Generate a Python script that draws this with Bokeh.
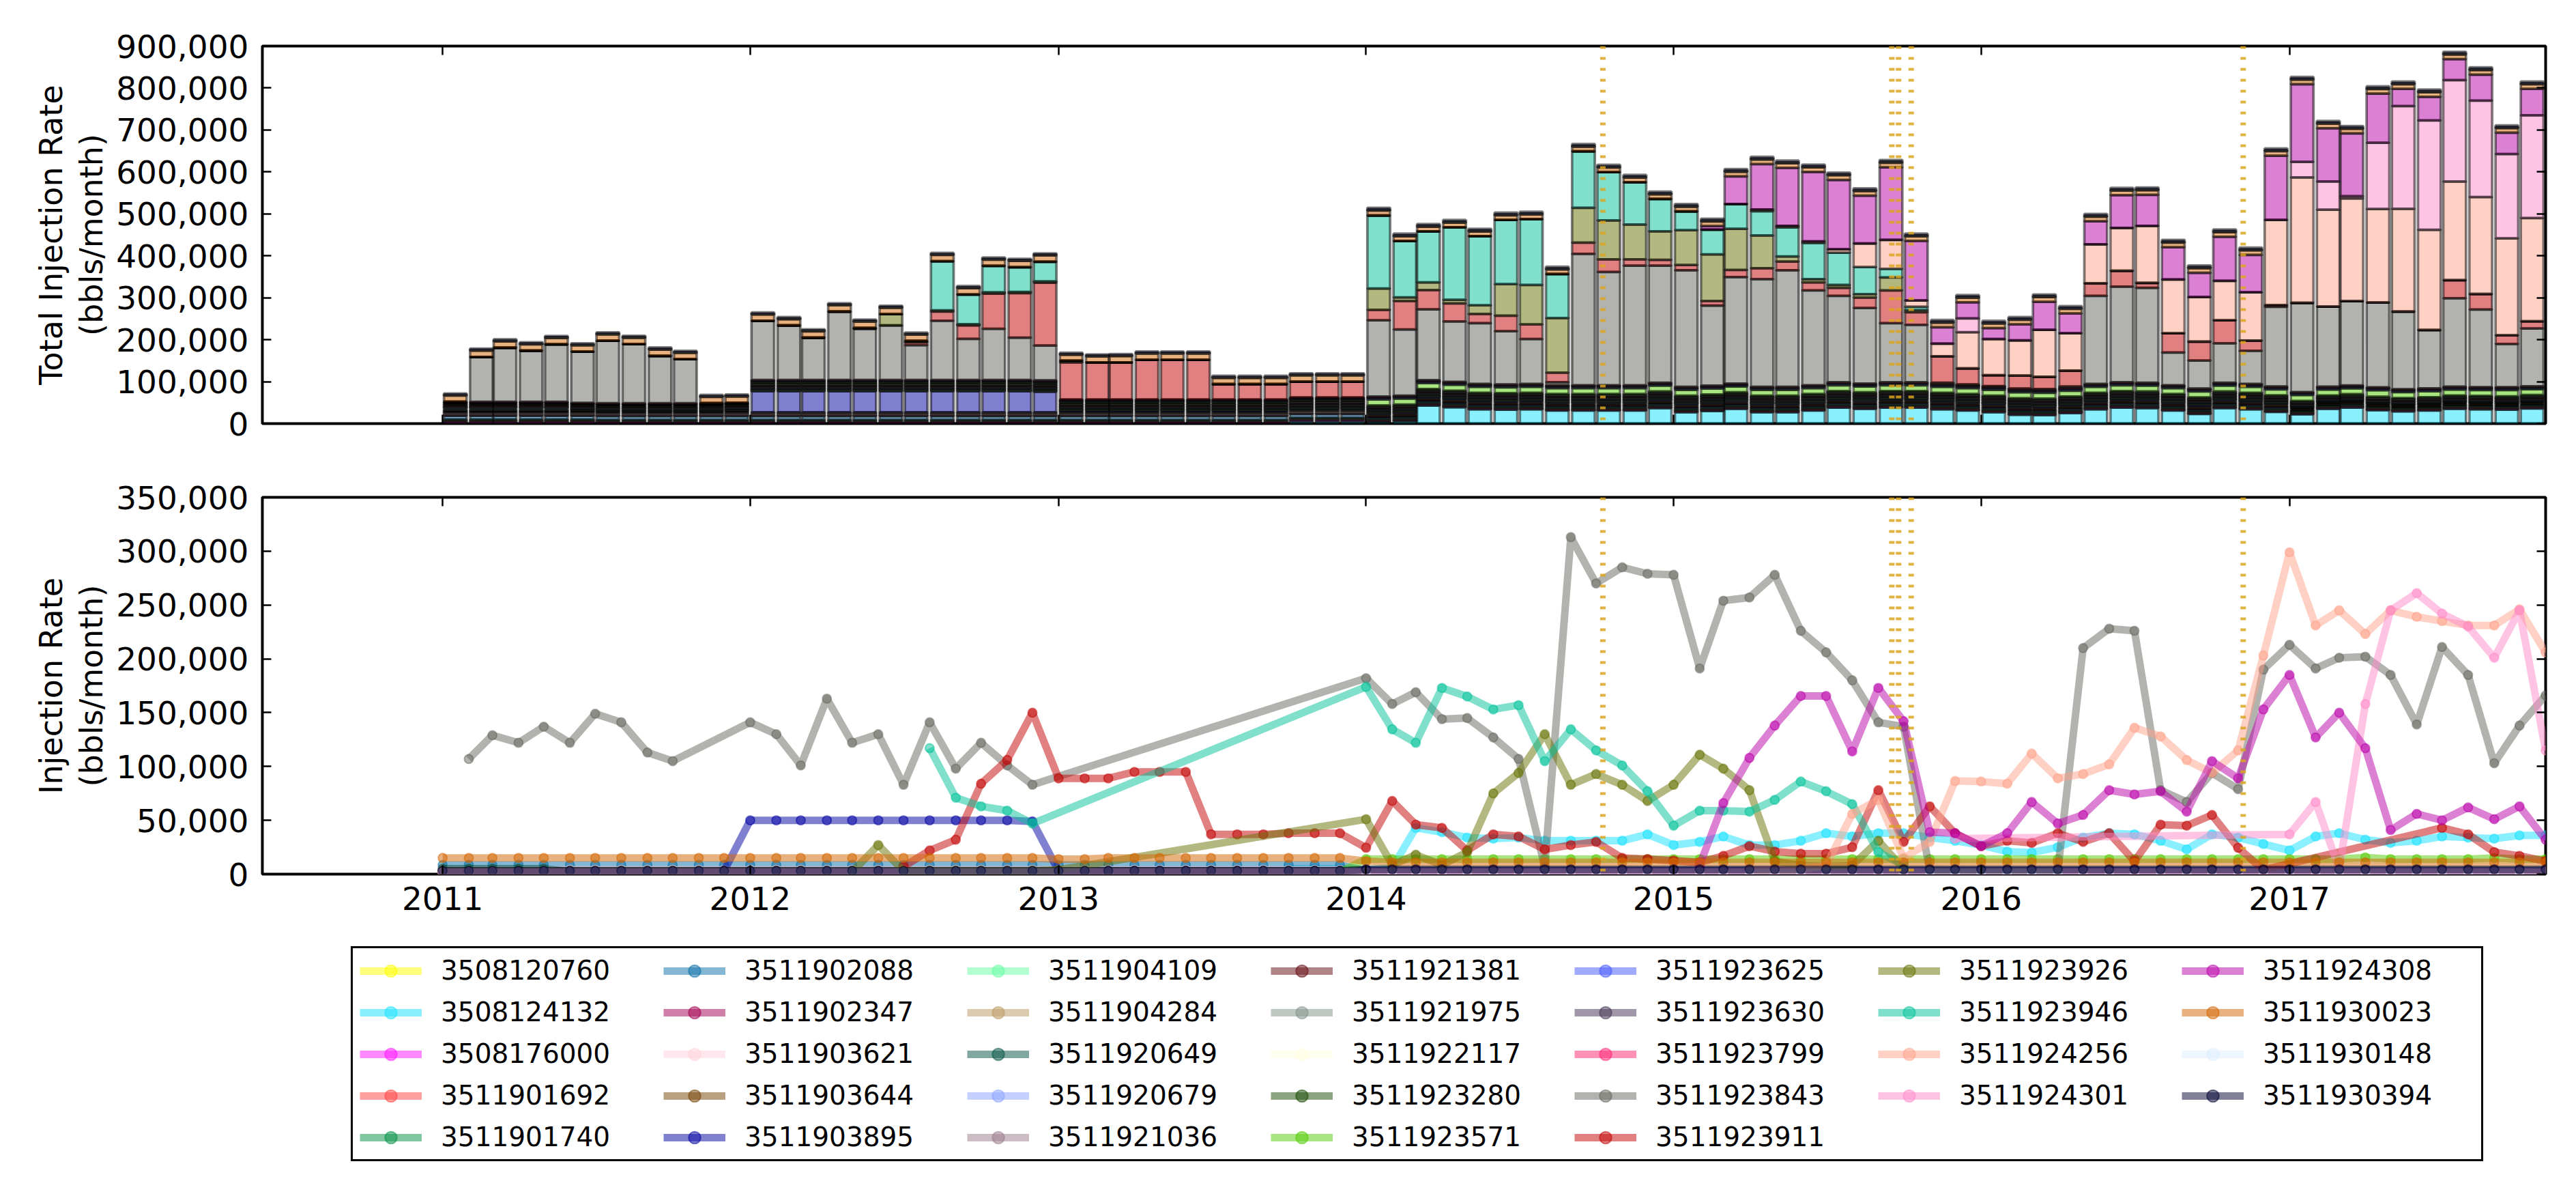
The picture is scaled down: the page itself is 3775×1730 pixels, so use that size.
import pandas as pd
from bokeh.plotting import figure
from bokeh.models import (ColumnDataSource, Span, Legend, LegendItem, LinearAxis,
                          DatetimeAxis, NumeralTickFormatter, FixedTicker,
                          DatetimeTickFormatter, Range1d, CustomJSTickFormatter)
from bokeh.layouts import column
from bokeh.embed import file_html
from bokeh.resources import INLINE

_ = None

# ---------------------------------------------------------------- data
FIRST_MONTH = "2011-01-01"      # monthly reports, Jan 2011 .. Nov 2017
N_MONTHS = 83
X_START = "2010-06-01"
X_END = "2017-11-01"
YEAR_TICKS = [2011, 2012, 2013, 2014, 2015, 2016, 2017]
QUAKE_DATES = ["2014-10-09", "2015-09-17", "2015-09-25", "2015-10-10", "2016-11-07"]
TOP_Y_TICKS = [0, 100000, 200000, 300000, 400000, 500000, 600000, 700000, 800000, 900000]
BOTTOM_Y_TICKS = [0, 50000, 100000, 150000, 200000, 250000, 300000, 350000]

WELL_IDS = ["3508120760", "3508124132", "3508176000", "3511901692", "3511901740",
            "3511902088", "3511902347", "3511903621", "3511903644", "3511903895",
            "3511904109", "3511904284", "3511920649", "3511920679", "3511921036",
            "3511921381", "3511921975", "3511922117", "3511923280", "3511923571",
            "3511923625", "3511923630", "3511923799", "3511923843", "3511923911",
            "3511923926", "3511923946", "3511924256", "3511924301", "3511924308",
            "3511930023", "3511930148", "3511930394"]
WELL_COLORS = ["#ffff00", "#15e1ff", "#ff11ff", "#ff4141", "#028f42",
               "#0a70a8", "#a10051", "#ffd1dc", "#714101", "#0101a1",
               "#65ffa1", "#b9975f", "#015141", "#89a1ff", "#997989",
               "#610a10", "#819189", "#ffffe1", "#154901", "#51c901",
               "#4155ff", "#413151", "#ff2171", "#65655d", "#c10101",
               "#657101", "#01c199", "#ffa189", "#ff89c9", "#b901a9",
               "#d16501", "#ddedff", "#010131"]

# thousand bbls / month, one row per year (2011 ... 2017), None = no report
W3508120760 = [
    1, 1, 1, 1, 1, 1, _, _, _, _, _, _,
    _, _, _, _, _, _, _, _, _, _, _, _,
    _, _, _, _, _, _, _, _, _, _, _, _,
    _, _, _, _, _, _, _, _, _, _, _, _,
    _, _, _, _, _, _, _, _, _, _, _, _,
    _, _, _, _, _, _, _, _, _, _, _, _,
    _, _, _, _, _, _, _, _, _, _, _]
W3508124132 = [
    _, _, _, _, _, _, _, _, _, _, _, _,
    _, _, _, _, _, _, _, _, _, _, _, _,
    _, _, _, _, _, _, _, _, _, 5, 5, 5,
    4, 6, 43, 39, 34, 33, 34, 31, 31, 31, 31, 37,
    27, 30, 35, 27, 27, 31, 38, 35, 38, 38, 34, 31,
    27, 21, 20, 25, 34, 38, 37, 31, 23, 37, 34, 28,
    22, 35, 38, 32, 29, 31, 35, 34, 33, 36, 36]
W3508176000 = [
    3.5, 3.5, 3.5, 3.5, 3.5, 3.5, 3.5, 3.5, 3.5, 3.5, 3.5, 3.5,
    3.5, 3.5, 3.5, 3.5, 3.5, 3.5, 3.5, 3.5, 3.5, 3.5, 3.5, 3.5,
    3.5, 3.5, 3.5, 3.5, 3.5, 3.5, 3.5, 3.5, 3.5, 3.5, 3.5, 3.5,
    2, 2, 2, 2, 2, 2, 2, 2, 2, 2, 2, 2,
    2, 2, 2, 2, 2, 2, 2, 2, 2, 2, 2, 2,
    2, 2, 2, 2, 2, 2, 2, 2, 2, 2, 2, 2,
    2, 2, 2, 2, 2, 2, 2, 2, 2, 2, 2]
W3511901692 = [
    2.5, 2.5, 2.5, 2.5, 2.5, 2.5, 2.5, 2.5, 2.5, 2.5, 2.5, 2.5,
    2.5, 2.5, 2.5, 2.5, 2.5, 2.5, 2.5, 2.5, 2.5, 2.5, 2.5, 2.5,
    2.5, 2.5, 2.5, 2.5, 2.5, 2.5, 2.5, 2.5, 2.5, 2.5, 2.5, 2.5,
    2.5, 2.5, 2.5, 2.5, 2.5, 2.5, 2.5, 2.5, 2.5, 2.5, 2.5, 2.5,
    2.5, 2.5, 2.5, 2.5, 2.5, 2.5, 2.5, 2.5, 2.5, 2.5, 2.5, 2.5,
    2.5, 2.5, 2.5, 2.5, 2.5, 2.5, 2.5, 2.5, 2.5, 2.5, 2.5, 2.5,
    2.5, 2.5, 2.5, 2.5, 2.5, 2.5, 2.5, 2.5, 2.5, 2.5, 2.5]
W3511901740 = [
    3, 3, 3, 3, 3, 3, 3, 3, 3, 3, 3, 3,
    3, 3, 3, 3, 3, 3, 3, 3, 3, 3, 3, 3,
    3, 3, 3, 3, 3, 3, 3, 3, 3, 3, 3, 3,
    3, 3, 3, 3, 3, 3, 3, 3, 3, 3, 3, 3,
    3, 3, 3, 3, 3, 3, 3, 3, 3, 3, 3, 3,
    3, 3, 3, 3, 3, 3, 3, 3, 3, 3, 3, 3,
    3, 3, 3, 3, 3, 3, 3, 3, 3, 3, 3]
W3511902088 = [
    8.5, 8.5, 8.5, 8.5, 8.5, 8.5, 8.5, 8.5, 8.5, 8.5, 8.5, 8.5,
    8.5, 8.5, 8.5, 8.5, 8.5, 8.5, 8.5, 8.5, 8.5, 8.5, 8.5, 8.5,
    8.5, 8.5, 8.5, 8.5, 8.5, 8.5, 8.5, 8.5, 8.5, 8.5, 8.5, 8.5,
    3, 3, 3, 3, 3, 3, 3, 3, 3, 3, 3, 3,
    3, 3, 3, 3, 3, 3, 3, 3, 3, 3, 3, 3,
    3, 3, 3, 3, 3, 3, 3, 3, 3, 3, 3, 3,
    3, 3, 3, 3, 3, 3, 3, 3, 3, 3, 3]
W3511902347 = [
    2.5, 2.5, 2.5, 2.5, 2.5, 2.5, 2.5, 2.5, 2.5, 2.5, 2.5, 2.5,
    2.5, 2.5, 2.5, 2.5, 2.5, 2.5, 2.5, 2.5, 2.5, 2.5, 2.5, 2.5,
    2.5, 2.5, 2.5, 2.5, 2.5, 2.5, 2.5, 2.5, 2.5, 2.5, 2.5, 2.5,
    2.5, 2.5, 2.5, 2.5, 2.5, 2.5, 2.5, 2.5, 2.5, 2.5, 2.5, 2.5,
    2.5, 2.5, 2.5, 2.5, 2.5, 2.5, 2.5, 2.5, 2.5, 2.5, 2.5, 2.5,
    2.5, 2.5, 2.5, 2.5, 2.5, 2.5, 2.5, 2.5, 2.5, 2.5, 2.5, 2.5,
    _, _, _, _, _, _, _, _, _, _, _]
W3511903621 = [
    4, 4, 4, 4, 4, 4, 4, 4, 4, 4, 4, 4,
    4, 4, 4, 4, 4, 4, 4, 4, 4, 4, 4, 4,
    4, 4, 4, 4, 4, 4, 4, 4, 4, 4, 4, 4,
    _, _, _, _, _, _, _, _, _, _, _, _,
    _, _, _, _, _, _, _, _, _, _, _, _,
    _, _, _, _, _, _, _, _, _, _, _, _,
    _, _, _, _, _, _, _, _, _, _, _]
W3511903644 = [
    3, 3, 3, 3, 3, 3, 3, 3, 3, 3, 3, 3,
    3, 3, 3, 3, 3, 3, 3, 3, 3, 3, 3, 3,
    3, 3, 3, 3, 3, 3, 3, 3, 3, 3, 3, 3,
    4, 4, 4, 4, 4, 4, 4, 4, 4, 4, 4, 4,
    4, 4, 4, 4, 4, 4, 4, 4, 4, 4, 4, 4,
    4, 4, 4, 4, 4, 4, 4, 4, 4, 4, 4, 4,
    4, 4, 4, 4, 4, 4, 4, 4, 4, 4, 4]
W3511903895 = [
    2, 2, 2, 2, 2, 2, 2, 2, 2, 2, 2, 3,
    50, 50, 50, 50, 50, 50, 50, 50, 50, 50, 50, 49,
    3, 3, 3, 3, 3, 3, 3, 3, 3, 3, 3, 3,
    3, 3, 3, 3, 3, 3, 3, 3, 3, 3, 3, 3,
    3, 3, 3, 3, 3, 3, 3, 3, 3, 3, 3, 3,
    3, 3, 3, 3, 3, 3, 3, 3, 3, 3, 3, 3,
    _, _, _, _, _, _, _, _, _, _, _]
W3511904109 = [
    _, _, _, _, _, _, _, _, _, _, _, _,
    2, 2, 2, 2, 2, 2, 2, 2, 2, 2, 2, 2,
    2, 2, 2, 2, 2, 2, 2, 2, 2, 2, 2, 2,
    2, 2, 2, 2, 2, 2, 2, 2, 2, 2, 2, 2,
    2, 2, 2, 2, 2, 2, 2, 2, 2, 2, 2, 2,
    2, 2, 2, 2, 2, 2, 2, 2, 2, 2, 2, 2,
    2, 2, 2, 2, 2, 2, 2, 2, 2, 2, 2]
W3511904284 = [
    2, 2, 2, 2, 2, 2, 2, 2, 2, 2, 2, 2,
    2, 2, 2, 2, 2, 2, 2, 2, 2, 2, 2, 2,
    2, 2, 2, 2, 2, 2, 2, 2, 2, 2, 2, 2,
    2, 2, 2, 2, 2, 2, 2, 2, 2, 2, 2, 2,
    2, 2, 2, 2, 2, 2, 2, 2, 2, 2, 2, 2,
    2, 2, 2, 2, 2, 2, 2, 2, 2, 2, 2, 2,
    _, _, _, _, _, _, _, _, _, _, _]
W3511920649 = [
    5, 5, 5, 5, 5, 2.5, 2.5, 2.5, 2.5, 2.5, 2.5, 2.5,
    2.5, 2.5, 2.5, 2.5, 2.5, 2.5, 2.5, 2.5, 2.5, 2.5, 2.5, 2.5,
    2.5, 2.5, 2.5, 2.5, 2.5, 2.5, 2.5, 2.5, 2.5, 2.5, 2.5, 2.5,
    2.5, 2.5, 2.5, 2.5, 2.5, 2.5, 2.5, 2.5, 2.5, 2.5, 2.5, 2.5,
    2.5, 2.5, 2.5, 2.5, 2.5, 2.5, 2.5, 2.5, 2.5, 2.5, 2.5, 2.5,
    2.5, 2.5, 2.5, 2.5, 2.5, 2.5, 2.5, 2.5, 2.5, 2.5, 2.5, 2.5,
    2.5, 2.5, 2.5, 2.5, 2.5, 2.5, 2.5, 2.5, 2.5, 2.5, 2.5]
W3511920679 = [
    2, 2, 2, 2, 2, 2, 2, 2, 2, 2, 2, 2,
    2, 2, 2, 2, 2, 2, 2, 2, 2, 2, 2, 2,
    2, 2, 2, 2, 2, 2, 2, 2, 2, 2, 2, 2,
    2, 2, 2, 2, 2, 2, 2, 2, 2, 2, 2, 2,
    2, 2, 2, 2, 2, 2, 2, 2, 2, 2, 2, 2,
    2, 2, 2, 2, 2, 2, 2, 2, 2, 2, 2, 2,
    2, 2, 2, 2, 2, 2, 2, 2, 2, 2, 2]
W3511921036 = [
    2, 2, 2, 2, 2, 2, 2, 2, 2, 2, 2, 2,
    2, 2, 2, 2, 2, 2, 2, 2, 2, 2, 2, 2,
    2, 2, 2, 2, 2, 2, 2, 2, 2, 2, 2, 2,
    2, 2, 2, 2, 2, 2, 2, 2, 2, 2, 2, 2,
    2, 2, 2, 2, 2, 2, 2, 2, 2, 2, 2, 2,
    2, 2, 2, 2, 2, 2, 2, 2, 2, 2, 2, 2,
    2, 2, 2, 2, 2, 2, 2, 2, 2, 2, 2]
W3511921381 = [
    2.5, 2.5, 2.5, 2.5, 2.5, 2.5, 2.5, 2.5, 2.5, 2.5, 2.5, 2.5,
    2.5, 2.5, 2.5, 2.5, 2.5, 2.5, 2.5, 2.5, 2.5, 2.5, 2.5, 2.5,
    2.5, 2.5, 2.5, 2.5, 2.5, 2.5, 2.5, 2.5, 2.5, 2.5, 2.5, 2.5,
    2.5, 2.5, 2.5, 2.5, 2.5, 2.5, 2.5, 2.5, 2.5, 2.5, 2.5, 2.5,
    2.5, 2.5, 2.5, 2.5, 2.5, 2.5, 2.5, 2.5, 2.5, 2.5, 2.5, 2.5,
    2.5, 2.5, 2.5, 2.5, 2.5, 2.5, 2.5, 2.5, 2.5, 2.5, 2.5, 2.5,
    2.5, 2.5, 2.5, 2.5, 2.5, 2.5, 2.5, 2.5, 2.5, 2.5, 2.5]
W3511921975 = [
    2, 2, 2, 2, 2, 2, 2, 2, 2, 2, 2, 2,
    2, 2, 2, 2, 2, 2, 2, 2, 2, 2, 2, 2,
    2, 2, 2, 2, 2, 2, 2, 2, 2, 2, 2, 2,
    2, 2, 2, 2, 2, 2, 2, 2, 2, 2, 2, 2,
    2, 2, 2, 2, 2, 2, 2, 2, 2, 2, 2, 2,
    2, 2, 2, 2, 2, 2, 2, 2, 2, 2, 2, 2,
    2, 2, 2, 2, 2, 2, 2, 2, 2, 2, 2]
W3511922117 = [
    _, _, _, _, _, _, _, _, _, _, _, _,
    1.5, 1.5, 1.5, 1.5, 1.5, 1.5, 1.5, 1.5, 1.5, 1.5, 1.5, 1.5,
    1.5, 1.5, 1.5, 1.5, 1.5, 1.5, 1.5, 1.5, 1.5, 1.5, 1.5, 1.5,
    1.5, 1.5, 1.5, 1.5, 1.5, 1.5, 1.5, 1.5, 1.5, 1.5, 1.5, 1.5,
    1.5, 1.5, 1.5, 1.5, 1.5, 1.5, 1.5, 1.5, 1.5, 1.5, 1.5, 1.5,
    1.5, 1.5, 1.5, 1.5, 1.5, 1.5, 1.5, 1.5, 1.5, 1.5, 1.5, 1.5,
    1.5, 1.5, 1.5, 1.5, 1.5, 1.5, 1.5, 1.5, 1.5, 1.5, 1.5]
W3511923280 = [
    3, 3, 3, 3, 3, 3, 3, 3, 3, 3, 3, 3,
    3, 3, 3, 3, 3, 3, 3, 3, 3, 3, 3, 3,
    3, 3, 3, 3, 3, 3, 3, 3, 3, 3, 3, 3,
    3, 3, 3, 3, 3, 3, 3, 3, 3, 3, 3, 3,
    3, 3, 3, 3, 3, 3, 3, 3, 3, 3, 3, 3,
    3, 3, 3, 3, 3, 3, 3, 3, 3, 3, 3, 3,
    3, 3, 3, 3, 3, 3, 3, 3, 3, 3, 3]
W3511923571 = [
    _, _, _, _, _, _, _, _, _, _, _, _,
    2, 2, 2, 2, 2, 2, 2, 2, 2, 2, 2, 2,
    2, 2, 2, 2, 2, 2, 2, 2, 2, 2, 2, 2,
    14, 14, 14, 14, 14, 14, 14, 14, 14, 14, 14, 14,
    14, 14, 14, 14, 14, 14, 14, 14, 14, 14, 14, 14,
    14, 14, 14, 14, 14, 14, 14, 14, 14, 14, 14, 14,
    14, 14, 14, 15.5, 14, 14, 14, 14, 15, 14, 14]
W3511923625 = [
    _, _, _, _, _, _, _, _, _, _, _, _,
    2, 2, 2, 2, 2, 2, 2, 2, 2, 2, 2, 2,
    2, 2, 2, 2, 2, 2, 2, 2, 2, 2, 2, 2,
    3, 3, 3, 3, 3, 3, 3, 3, 3, 3, 3, 3,
    3, 3, 3, 3, 3, 3, 3, 3, 3, 3, 3, 3,
    3, 3, 3, 3, 3, 3, 3, 3, 3, 3, 3, 3,
    3, 3, 3, 3, 3, 3, 3, 3, 3, 3, 3]
W3511923630 = [
    1.5, 1.5, 1.5, 1.5, 1.5, 1.5, 1.5, 1.5, 1.5, 1.5, 1.5, 1.5,
    1.5, 1.5, 1.5, 1.5, 1.5, 1.5, 1.5, 1.5, 1.5, 1.5, 1.5, 1.5,
    1.5, 1.5, 1.5, 1.5, 1.5, 1.5, 1.5, 1.5, 1.5, 1.5, 1.5, 1.5,
    2, 2, 2, 2, 2, 2, 2, 2, 2, 2, 2, 2,
    2, 2, 2, 2, 2, 2, 2, 2, 2, 2, 2, 2,
    2, 2, 2, 2, 2, 2, 2, 2, 2, 2, 2, 2,
    2, 2, 2, 2, 2, 2, 2, 2, 2, 2, 2]
W3511923799 = [
    2, 2, 2, 2, 2, 2, 2, 2, 2, 2, 2, 2,
    2, 2, 2, 2, 2, 2, 2, 2, 2, 2, 2, 2,
    2, 2, 2, 2, 2, 2, 2, 2, 2, 2, 2, 2,
    2, 2, 2, 2, 2, 2, 2, 2, 2, 2, 2, 2,
    2, 2, 2, 2, 2, 2, 2, 2, 2, 2, 2, 2,
    2, 2, 2, 2, 2, 2, 2, 2, 2, 2, 2, 2,
    2, 2, 2, 2, 2, 2, 2, 2, 2, 2, 2]
W3511923843 = [
    _, 107, 129, 122, 137, 122, 149, 141, 113, 105, _, _,
    141, 130, 101, 163, 122, 130, 83, 141, 98, 122, 101, 83,
    _, _, _, _, _, _, _, _, _, _, _, _,
    182, 158, 169, 144, 145, 127, 107, 7, 313, 270, 285, 279,
    278, 191, 254, 257, 278, 226, 206, 180, 141, 137, 3, 2,
    2, 2, 2, 3, 210, 228, 226, 78, 67, 94, 79, 190,
    213, 191, 201, 202, 185, 139, 211, 185, 103, 138, 166]
W3511923911 = [
    _, _, _, _, _, _, _, _, _, _, _, _,
    _, _, _, _, _, _, 7, 22, 32, 84, 106, 150,
    89, 89, 89, 95, 95, 95, 37, 37, 37, 38, 38, 38,
    24.5, 68, 46, 43, 22, 37, 35, 23, 27, 30, 15, 14,
    12.5, 11, 17, 26, 21, 19, 19, 25, 78, 30, 63, 38,
    26, 31, 29, 38, 30, 38, 12, 46, 45, 55, 24.5, 4,
    _, _, _, _, _, _, 43, 37, 20.5, 17, 12]
W3511923926 = [
    _, _, _, _, _, _, _, _, _, _, _, _,
    _, _, _, _, 2, 27, 3, 3, 3, 3, 3, 3,
    4, _, _, _, _, _, _, _, _, _, _, _,
    51, 8.5, 18, 8.5, 20.5, 75, 94, 130, 83, 93, 83, 68,
    83, 111, 98, 78, 12, 8, 7, 8, 31, 5, _, _,
    _, _, _, _, _, _, _, _, _, _, _, _,
    _, _, _, _, _, _, _, _, _, _, _]
W3511923946 = [
    _, _, _, _, _, _, _, _, _, _, _, _,
    _, _, _, _, _, _, _, 117, 71, 63, 59, 47,
    _, _, _, _, _, _, _, _, _, _, _, _,
    174, 134.5, 122, 173, 165, 153, 157, 105, 134.5, 115, 101, 77,
    45, 59, 59, 58, 69, 86, 77, 65, 20.5, 8, _, _,
    _, _, _, _, _, _, _, _, _, _, _, _,
    _, _, _, _, _, _, _, _, _, _, _]
W3511924256 = [
    _, _, _, _, _, _, _, _, _, _, _, _,
    _, _, _, _, _, _, _, _, _, _, _, _,
    _, _, _, _, _, _, _, _, _, _, _, _,
    _, _, _, _, _, _, _, _, _, _, _, _,
    _, _, _, 4, 4, 4, 8, 56, 69, 15, 30, 86.5,
    86, 84, 112, 89, 93, 102, 136, 128, 106, 94, 115, 203,
    299, 231, 245, 223, 245, 239, 235, 231, 231, 246, 206]
W3511924301 = [
    _, _, _, _, _, _, _, _, _, _, _, _,
    _, _, _, _, _, _, _, _, _, _, _, _,
    _, _, _, _, _, _, _, _, _, _, _, _,
    _, _, _, _, _, _, _, _, _, _, _, _,
    _, _, _, _, _, _, _, _, _, _, _, 33,
    _, _, _, _, _, _, _, _, _, _, _, _,
    37, 67, 5, 158, 245, 261, 242, 230, 201, 245, 115]
W3511924308 = [
    _, _, _, _, _, _, _, _, _, _, _, _,
    _, _, _, _, _, _, _, _, _, _, _, _,
    _, _, _, _, _, _, _, _, _, _, _, _,
    _, _, _, _, _, _, _, _, _, _, _, _,
    _, 8.5, 66, 108, 138, 165.5, 165.5, 114, 173, 142, 39, 38,
    26, 38, 67, 47, 55, 78, 74, 77, 58, 105, 89, 153,
    185, 127, 150, 117, 41, 56, 50, 62, 51, 63, 32]
W3511930023 = [
    15, 15, 15, 15, 15, 15, 15, 15, 15, 15, 15, 15,
    15, 15, 15, 15, 15, 15, 15, 15, 15, 15, 15, 15,
    14, 14, 15, 15, 15, 15, 15, 15, 15, 15, 15, 15,
    12, 11, 11, 11, 11, 11, 11, 11, 11, 11, 11, 11,
    11, 11, 11, 11, 11, 11, 11, 11, 11, 11, 11, 11,
    11, 11, 11, 11, 11, 11, 11, 11, 11, 11, 11, 11,
    11, 11, 11, 11, 11, 11, 11, 11, 11, 11, 11]
W3511930148 = [
    2, 2, 2, 2, 2, 2, 2, 2, 2, 2, 2, 2,
    2, 2, 2, 2, 2, 2, 2, 2, 2, 2, 2, 2,
    2, 2, 2, 2, 2, 2, 2, 2, 2, 2, 2, 2,
    2, 2, 2, 2, 2, 2, 2, 2, 2, 2, 2, 2,
    2, 2, 2, 2, 2, 2, 2, 2, 2, 2, 2, 2,
    2, 2, 2, 2, 2, 2, 2, 2, 2, 2, 2, 2,
    2, 2, 2, 2, 2, 2, 2, 2, 2, 2, 2]
W3511930394 = [
    3, 3, 3, 3, 3, 3, 3, 3, 3, 3, 3, 3,
    3, 3, 3, 3, 3, 3, 3, 3, 3, 3, 3, 3,
    3, 3, 3, 3, 3, 3, 3, 3, 3, 3, 3, 3,
    4.5, 4.5, 4.5, 4.5, 4.5, 4.5, 4.5, 4.5, 4.5, 4.5, 4.5, 4.5,
    4.5, 4.5, 4.5, 4.5, 4.5, 4.5, 4.5, 4.5, 4.5, 4.5, 4.5, 4.5,
    4.5, 4.5, 4.5, 4.5, 4.5, 4.5, 4.5, 4.5, 4.5, 4.5, 4.5, 4.5,
    4.5, 4.5, 4.5, 4.5, 4.5, 4.5, 4.5, 4.5, 4.5, 4.5, 4.5]

WELL_SERIES = [W3508120760, W3508124132, W3508176000, W3511901692, W3511901740,
               W3511902088, W3511902347, W3511903621, W3511903644, W3511903895,
               W3511904109, W3511904284, W3511920649, W3511920679, W3511921036,
               W3511921381, W3511921975, W3511922117, W3511923280, W3511923571,
               W3511923625, W3511923630, W3511923799, W3511923843, W3511923911,
               W3511923926, W3511923946, W3511924256, W3511924301, W3511924308,
               W3511930023, W3511930148, W3511930394]
for s in WELL_SERIES:
    assert len(s) == N_MONTHS, len(s)

# ---------------------------------------------------------------- helpers
FONT = "DejaVu Sans"
DAY = 86400000.0
LINE_W = 11
MARK_SIZE = 13
BORDER_L, FRAME_W, BORDER_R = 384, 3346, 45


def ms(s):
    return pd.Timestamp(s).value / 1e6


months = pd.date_range(FIRST_MONTH, periods=N_MONTHS, freq="MS")
month_ms = [t.value / 1e6 for t in months]
year_ms = [ms(f"{y}-01-01") for y in YEAR_TICKS]
x_range = Range1d(ms(X_START), ms(X_END))
n_bars = sum(1 for t in months if t < pd.Timestamp(X_END))

year_fmt = DatetimeTickFormatter(years="%Y", months="%Y", days="%Y", hours="%Y",
                                 hourmin="%Y", minutes="%Y", minsec="%Y",
                                 seconds="%Y", milliseconds="%Y", microseconds="%Y")


def blank_fmt():
    return CustomJSTickFormatter(code="return ''")


def style_axis(ax, labels=True):
    ax.axis_line_color = None
    ax.major_tick_in = 13
    ax.major_tick_out = 0
    ax.major_tick_line_width = 2.5
    ax.major_tick_line_color = "black"
    ax.minor_tick_line_color = None
    ax.major_label_text_font = FONT
    ax.major_label_text_color = "black"
    ax.major_label_text_font_size = "47px"
    ax.axis_label_text_font = FONT
    ax.axis_label_text_font_size = "46px"
    ax.axis_label_text_font_style = "normal"
    ax.axis_label_text_color = "black"
    ax.axis_label_text_line_height = 1.1
    ax.major_label_standoff = 20 if labels else 0


def make_fig(y_max, y_ticks, ylabel, top_border, bottom_border, frame_h, x_labels):
    p = figure(frame_width=FRAME_W, frame_height=frame_h, x_range=x_range,
               y_range=Range1d(0, y_max), x_axis_type="datetime",
               output_backend="svg", toolbar_location=None,
               min_border_left=BORDER_L, min_border_right=BORDER_R,
               min_border_top=top_border, min_border_bottom=bottom_border)
    p.background_fill_color = "white"
    p.border_fill_color = "white"
    p.outline_line_color = "black"
    p.outline_line_width = 4
    p.outline_line_alpha = 1
    p.xgrid.visible = False
    p.ygrid.visible = False
    p.yaxis.ticker = FixedTicker(ticks=y_ticks)
    p.yaxis.formatter = NumeralTickFormatter(format="0,0")
    p.yaxis.axis_label = ylabel
    style_axis(p.yaxis[0])
    p.yaxis.axis_label_standoff = 6
    p.xaxis.ticker = FixedTicker(ticks=year_ms)
    style_axis(p.xaxis[0], labels=x_labels)
    if x_labels:
        p.xaxis.formatter = year_fmt
        p.xaxis.major_label_standoff = 18
    else:
        p.xaxis.formatter = blank_fmt()
    r = LinearAxis(ticker=FixedTicker(ticks=y_ticks), formatter=blank_fmt())
    style_axis(r, labels=False)
    p.add_layout(r, "right")
    a = DatetimeAxis(ticker=FixedTicker(ticks=year_ms), formatter=blank_fmt())
    style_axis(a, labels=False)
    p.add_layout(a, "above")
    return p


def add_quakes(p):
    for d in QUAKE_DATES:
        p.add_layout(Span(location=ms(d), dimension="height", line_color="#daa520",
                          line_width=8, line_dash="4 12", line_alpha=0.85))


# ---------------------------------------------------------------- top: stacked bars
top = make_fig(900000, TOP_Y_TICKS, "Total Injection Rate\n(bbls/month)", 67, 50, 553, False)
bar_data = {"x": [m + 15 * DAY for m in month_ms[:n_bars]]}
for wid, ser in zip(WELL_IDS, WELL_SERIES):
    bar_data[wid] = [0.0 if v is None else v * 1000.0 for v in ser[:n_bars]]
top.vbar_stack(WELL_IDS, x="x", width=27 * DAY, source=ColumnDataSource(bar_data),
               fill_color=WELL_COLORS, fill_alpha=0.5,
               line_color="black", line_alpha=0.5, line_width=3.75)
add_quakes(top)

# ---------------------------------------------------------------- bottom: lines per well
bot = make_fig(350000, BOTTOM_Y_TICKS, "Injection Rate\n(bbls/month)", 58, 106, 552, True)
for wid, ser, col in zip(WELL_IDS, WELL_SERIES, WELL_COLORS):
    xs = [month_ms[i] for i, v in enumerate(ser) if v is not None]
    ys = [v * 1000.0 for v in ser if v is not None]
    src = ColumnDataSource(dict(x=xs, y=ys))
    bot.line("x", "y", source=src, line_color=col, line_alpha=0.5,
             line_width=LINE_W, line_join="round")
    bot.scatter("x", "y", source=src, size=MARK_SIZE, fill_color=col, fill_alpha=0.5,
                line_color=col, line_alpha=0.5, line_width=2)
add_quakes(bot)

# ---------------------------------------------------------------- legend strip
LEG_FRAME_H = 330
leg = figure(frame_width=FRAME_W, frame_height=LEG_FRAME_H, x_range=Range1d(0, 1),
             y_range=Range1d(0, 1), x_axis_location=None, y_axis_location=None,
             output_backend="svg", toolbar_location=None,
             min_border_left=BORDER_L, min_border_right=BORDER_R,
             min_border_top=0, min_border_bottom=0)
leg.outline_line_color = None
leg.background_fill_color = "white"
leg.border_fill_color = "white"
leg.grid.visible = False
nan = float("nan")
items = []
for wid, col in zip(WELL_IDS, WELL_COLORS):
    # a single undrawable point: the renderer only supplies the legend swatch
    swatch = ColumnDataSource(dict(x=[nan], y=[nan]))
    lr = leg.line("x", "y", source=swatch, line_color=col, line_alpha=0.5,
                  line_width=LINE_W)
    sr = leg.scatter("x", "y", source=swatch, size=MARK_SIZE, fill_color=col,
                     fill_alpha=0.5, line_color=col, line_alpha=0.5, line_width=2)
    items.append(LegendItem(label=wid, renderers=[lr, sr]))

# matplotlib-style column fill (5,5,5,5,5,4,4) laid out row by row
col_sizes = [5, 5, 5, 5, 5, 4, 4]
col_starts = [0, 5, 10, 15, 20, 25, 29]
ordered = []
for r in range(5):
    for c in range(7):
        if r < col_sizes[c]:
            ordered.append(items[col_starts[c] + r])

legend = Legend(items=ordered, orientation="horizontal", ncols=7, location=(130, 15),
                label_text_font=FONT, label_text_font_size="39px",
                label_text_color="black",
                glyph_width=91, glyph_height=44, label_standoff=28,
                label_width=310, label_height=44, spacing=16, padding=10,
                margin=0, border_line_color="black", border_line_width=3,
                border_line_alpha=1, background_fill_color="white",
                background_fill_alpha=1)
leg.add_layout(legend)

layout = column(top, bot, leg)
open("out.html", "w").write(file_html(layout, INLINE))
